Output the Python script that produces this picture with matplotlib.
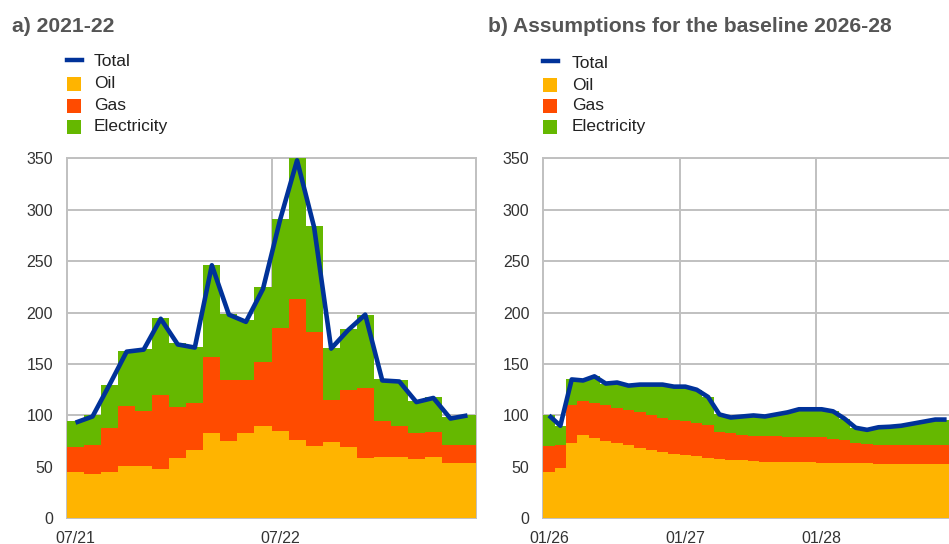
import numpy as np
import matplotlib
matplotlib.use("Agg")
import matplotlib.pyplot as plt
from matplotlib.patches import Rectangle
from matplotlib.lines import Line2D

plt.rcParams['font.family'] = ['Liberation Sans', 'DejaVu Sans']

# ---------------- data ----------------
series_names = ["Total", "Oil", "Gas", "Electricity"]

# Panel a) 2021-22, monthly from 07/21
ticks_a = ["07/21", "07/22"]
oil_a = [45, 43, 45, 51, 51, 48, 59, 66, 83, 75, 83, 90, 85, 76, 70, 74, 69, 59, 60, 60, 58, 60, 54, 54]
gas_a = [24, 28, 43, 58, 53, 72, 49, 46, 74, 59, 51, 62, 100, 137, 111, 41, 56, 68, 35, 30, 25, 24, 17, 17]
elec_a = [26, 29, 42, 54, 61, 75, 62, 55, 89, 65, 59, 73, 106, 137, 103, 51, 59, 71, 40, 44, 31, 34, 27, 29]
total_a = [93, 99, 130, 162, 164, 194, 169, 166, 246, 198, 191, 223, 290, 348, 283, 165, 183, 198,
           134, 133, 113, 117, 97, 100]

# Panel b) baseline 2026-28, monthly from 01/26
ticks_b = ["01/26", "01/27", "01/28"]
oil_b = [45, 49, 73, 81, 78, 75.5, 73.5, 71, 68.6, 66.4, 64, 62.5,
         62, 61, 59, 58, 57, 57, 56, 55, 55, 55, 55, 55,
         54, 54, 54, 54, 54, 53, 53, 53, 53, 53, 53, 53]
gas_b = [25, 22, 37, 33, 34, 34.5, 34, 34, 34.4, 33.6, 33.5, 33,
         33, 32, 32, 26, 26, 24, 24, 25, 24.6, 24, 23.7, 23.7,
         24.7, 23, 22, 19, 18, 18.3, 18.3, 18.3, 18.3, 18.3, 18.3, 18.3]
elec_b = [30, 19, 25, 20, 26, 21, 24.5, 24, 27, 30, 32.5, 32.5,
          33, 32, 27, 17, 15, 18, 20, 19, 21.4, 24, 27.3, 27.3,
          27.3, 27, 21, 15, 14, 17.2, 17.7, 18.7, 20.7, 22.7, 24.7, 24.7]
total_b = [100, 90, 135, 134, 138, 131, 132, 129, 130, 130, 130, 128,
           128, 125, 118, 101, 98, 99, 100, 99, 101, 103, 106, 106,
           106, 104, 97, 88, 86, 88.5, 89, 90, 92, 94, 96, 96]

# ---------------- style ----------------
C_TOTAL = "#003299"
C_OIL = "#FFB400"
C_GAS = "#FF4B00"
C_ELEC = "#65B800"
C_GRID = "#c0c0c0"
C_TEXT = "#333333"
C_TITLE = "#555555"

W, H = 949, 544
fig = plt.figure(figsize=(W / 100, H / 100), dpi=100)


def fx(px):
    return px / W


def fy(py):
    return 1 - py / H


def panel(left_px, oil, gas, elec, total, ticklabels):
    n = len(oil)
    ax = fig.add_axes([fx(left_px), fy(518.3), fx(409), 360 / H])
    x = np.arange(n)
    oil = np.array(oil, float)
    gas = np.array(gas, float)
    elec = np.array(elec, float)
    ax.bar(x, oil, width=1.0, align='edge', color=C_OIL, linewidth=0, zorder=2)
    ax.bar(x, gas, width=1.0, align='edge', bottom=oil, color=C_GAS, linewidth=0, zorder=2)
    ax.bar(x, elec, width=1.0, align='edge', bottom=oil + gas, color=C_ELEC, linewidth=0, zorder=2)
    ax.plot(x + 0.5, total, color=C_TOTAL, linewidth=3.3, zorder=3,
            solid_joinstyle='round', solid_capstyle='butt')
    ax.set_xlim(0, n)
    ax.set_ylim(0, 350)
    ax.set_yticks(np.arange(0, 351, 50))
    ax.yaxis.grid(True, color=C_GRID, linewidth=1.4, zorder=0)
    ax.set_axisbelow(True)
    for k in range(12, n, 12):
        ax.axvline(k, color=C_GRID, linewidth=1.4, zorder=0.5)
    ax.set_xticks([12 * i + 0.5 for i in range(len(ticklabels))])
    ax.set_xticklabels(ticklabels)
    ax.tick_params(axis='both', length=0, labelsize=11.5, colors=C_TEXT)
    ax.tick_params(axis='y', pad=10)
    ax.tick_params(axis='x', pad=9)
    for s in ax.spines.values():
        s.set_color(C_GRID)
        s.set_linewidth(1.4)
        s.set_zorder(1)
    return ax


def legend(x_handle, x_text, rows_y):
    # Total: thick line
    fig.add_artist(Line2D([fx(x_handle), fx(x_handle + 15)], [fy(rows_y[0] - 2), fy(rows_y[0] - 2)],
                          transform=fig.transFigure, color=C_TOTAL, linewidth=3.2))
    for yy, col in zip(rows_y[1:], [C_OIL, C_GAS, C_ELEC]):
        fig.add_artist(Rectangle((fx(x_handle), fy(yy + 7)), fx(14), 14 / H,
                                 transform=fig.transFigure, facecolor=col, edgecolor='none'))
    for yy, name in zip(rows_y, series_names):
        fig.text(fx(x_text), fy(yy), name, fontsize=12.5, color="#222222", va='center', ha='left')


panel(67, oil_a, gas_a, elec_a, total_a, ticks_a)
panel(543.3, oil_b, gas_b, elec_b, total_b, ticks_b)

fig.text(fx(12), fy(27), "a) 2021-22", fontsize=15.2, fontweight='bold', color=C_TITLE,
         va='center', ha='left')
fig.text(fx(488), fy(27), "b) Assumptions for the baseline 2026-28", fontsize=15.2,
         fontweight='bold', color=C_TITLE, va='center', ha='left')

legend(67, 94, [62, 84, 106, 127])
legend(543, 572, [63, 85, 106, 127])

fig.savefig("out.png", dpi=100)
